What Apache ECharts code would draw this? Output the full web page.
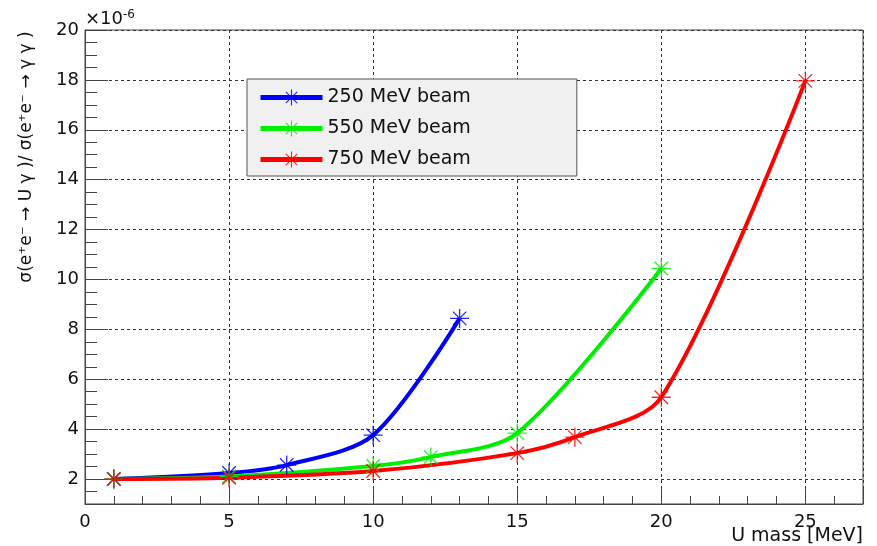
<!DOCTYPE html>
<html>
<head>
<meta charset="utf-8">
<script src="https://cdn.jsdelivr.net/npm/echarts@6/dist/echarts.min.js"></script>
<style>
  html, body { margin: 0; padding: 0; background: #fff; }
  #chart { width: 877px; height: 546px; }
</style>
</head>
<body>
<div id="chart"></div>
<script>
// U mass [MeV] and cross-section ratio (x 1e-6) per beam energy
const mass250 = [1, 5, 7, 10, 13];
const ratio250 = [2.0, 2.24, 2.56, 3.76, 8.44];
const mass550 = [1, 5, 10, 12, 15, 20];
const ratio550 = [2.0, 2.1, 2.52, 2.88, 3.84, 10.44];
const mass750 = [1, 5, 10, 15, 17, 20, 25];
const ratio750 = [2.0, 2.05, 2.32, 3.04, 3.68, 5.28, 17.96];

const beamNames = ["250 MeV beam", "550 MeV beam", "750 MeV beam"];
const beamColors = ["#0000ff", "#00ee00", "#ff0000"];

const yMajorTicks = [2, 4, 6, 8, 10, 12, 14, 16, 18, 20];

const FONT = "DejaVu Sans";

// asterisk marker (ROOT style 3)
const STAR =
  "path://M9.3,0L10.7,0L10.7,20L9.3,20Z" +
  "M0,9.3L20,9.3L20,10.7L0,10.7Z" +
  "M2.4,3.4L3.4,2.4L17.6,16.6L16.6,17.6Z" +
  "M16.6,2.4L17.6,3.4L3.4,17.6L2.4,16.6Z";

const toPairs = (xs, ys) => xs.map((x, i) => [x, ys[i]]);

const makeSeries = (name, color, xs, ys) => ({
  name: name,
  type: "line",
  data: toPairs(xs, ys),
  smooth: 0.3,
  symbol: STAR,
  symbolSize: 19,
  itemStyle: { color: color, opacity: 0.85 },
  lineStyle: { color: color, width: 4 },
  emphasis: { disabled: true }
});

const chart = echarts.init(document.getElementById("chart"));

const option = {
  backgroundColor: "#fff",
  animation: false,
  textStyle: { fontFamily: FONT },
  grid: {
    left: 85,
    right: 14,
    top: 30,
    bottom: 42,
    show: true,
    borderColor: "#444",
    borderWidth: 1,
    containLabel: false,
    outerBoundsMode: "none"
  },
  legend: {
    data: beamNames,
    orient: "vertical",
    left: 247,
    top: 79,
    padding: [9, 106, 7, 11],
    itemGap: 12,
    itemWidth: 62,
    itemHeight: 20,
    backgroundColor: "#f0f0f0",
    borderColor: "#555",
    borderWidth: 1,
    lineStyle: { width: 5 },
    textStyle: { fontFamily: FONT, fontSize: 19, color: "#111" }
  },
  graphic: [
    {
      type: "text",
      right: 14,
      top: 527,
      style: { text: "U mass [MeV]", font: "19px " + FONT, fill: "#111" }
    }
  ],
  xAxis: [
    {
      type: "value",
      min: 0,
      max: 27,
      interval: 5,
      axisLine: { show: true, lineStyle: { color: "#444", width: 1 } },
      axisTick: { show: true, inside: true, length: 15, lineStyle: { color: "#444" } },
      axisLabel: {
        fontFamily: FONT,
        fontSize: 18,
        color: "#111",
        margin: 9,
        formatter: (v) => (v % 5 === 0 ? String(v) : "")
      },
      splitLine: { show: true, lineStyle: { color: "#333", type: [3, 3], width: 1 } }
    },
    {
      // minor ticks every 1 MeV
      type: "value",
      min: 0,
      max: 27,
      interval: 1,
      position: "bottom",
      axisLine: { show: false },
      axisTick: { show: true, inside: true, length: 8, lineStyle: { color: "#444" } },
      axisLabel: { show: false },
      splitLine: { show: false }
    }
  ],
  yAxis: [
    {
      type: "value",
      min: 1,
      max: 20,
      interval: 1,
      name: "σ(e⁺e⁻ → U γ )/ σ(e⁺e⁻ → γ γ )",
      nameLocation: "middle",
      nameGap: 50,
      nameRotate: 90,
      nameTextStyle: { fontFamily: FONT, fontSize: 17, color: "#111", padding: [0, 0, 0, 220] },
      axisLine: { show: true, lineStyle: { color: "#444", width: 1 } },
      axisTick: {
        show: true,
        inside: true,
        length: 23,
        customValues: yMajorTicks,
        lineStyle: { color: "#444" }
      },
      axisLabel: {
        fontFamily: FONT,
        fontSize: 18,
        color: "#111",
        margin: 6,
        customValues: yMajorTicks
      },
      splitLine: { show: true, lineStyle: { color: "#333", type: [3, 3], width: 1 } }
    },
    {
      // minor ticks every 0.5
      type: "value",
      min: 1,
      max: 20,
      interval: 0.5,
      position: "left",
      name: "{a|×10}{b|-6}",
      nameLocation: "end",
      nameGap: 1,
      nameTextStyle: {
        align: "left",
        rich: {
          a: { fontFamily: FONT, fontSize: 18, color: "#111" },
          b: { fontFamily: FONT, fontSize: 12, color: "#111", verticalAlign: "top", padding: [0, 0, 8, 0] }
        }
      },
      axisLine: { show: false },
      axisTick: { show: true, inside: true, length: 12, lineStyle: { color: "#444" } },
      axisLabel: { show: false },
      splitLine: { show: false }
    }
  ],
  series: [
    makeSeries(beamNames[0], beamColors[0], mass250, ratio250),
    makeSeries(beamNames[1], beamColors[1], mass550, ratio550),
    makeSeries(beamNames[2], beamColors[2], mass750, ratio750)
  ]
};

chart.setOption(option);
</script>
</body>
</html>
